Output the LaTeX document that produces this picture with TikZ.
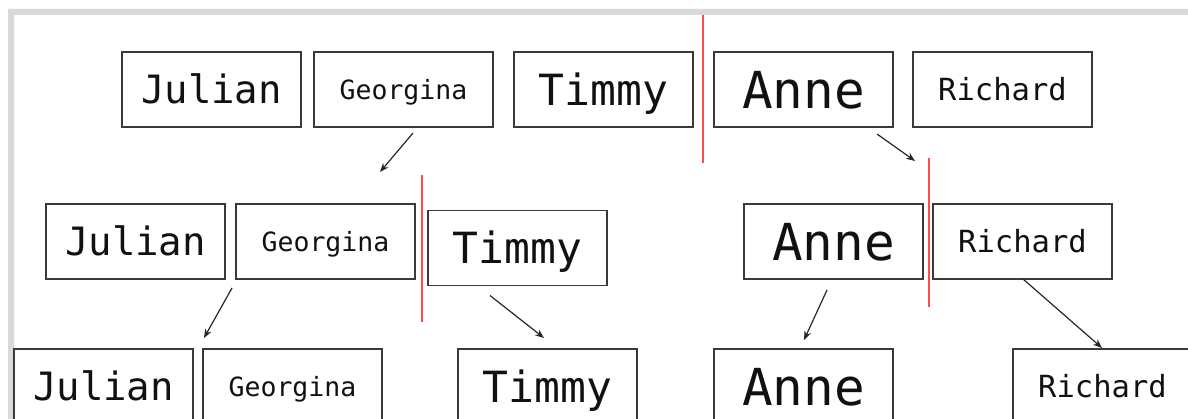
\documentclass[tikz,border=0pt]{standalone}
\usepackage{fontspec}
\newfontfamily\monof{DejaVu Sans Mono}
\usetikzlibrary{arrows.meta}
\definecolor{framec}{HTML}{D9D9D9}
\definecolor{boxc}{HTML}{3A3A3A}
\definecolor{ink}{HTML}{111111}
\definecolor{cut}{HTML}{FF4D4D}
\definecolor{arrc}{HTML}{262626}
\tikzset{
  card/.style={draw=boxc, line width=1.4pt, minimum width=179pt, minimum height=75pt,
    inner sep=0pt, outer sep=0pt, text=ink, text depth=0pt},
  jul/.style={card, font=\monof\fontsize{39}{39}\selectfont, text height=28.4pt},
  geo/.style={card, font=\monof\fontsize{26.5}{26.5}\selectfont, text height=19.3pt},
  tim/.style={card, font=\monof\fontsize{43}{43}\selectfont, text height=31.3pt},
  ann/.style={card, font=\monof\fontsize{51}{51}\selectfont, text height=37.2pt},
  ric/.style={card, font=\monof\fontsize{30.5}{30.5}\selectfont, text height=22.2pt},
  split/.style={draw=cut, line width=1.8pt},
  arr/.style={draw=arrc, line width=1.2pt, -{Stealth[length=9pt,width=7pt]}}
}
\begin{document}
\begin{tikzpicture}[x=1pt, y=-1pt]
  \useasboundingbox (0,0) rectangle (1188,419);
  % light grey frame along the top and left edges
  \fill[framec] (8,419) -- (8,9) -- (1188,9) -- (1188,15) -- (14,15) -- (14,419) -- cycle;

  % first row: whole list
  \node[jul] (j1) at (211.5,89.5) {Julian};
  \node[geo] (g1) at (403.5,89.5) {Georgina};
  \node[tim] (t1) at (603.5,89.5) {Timmy};
  \node[ann] (a1) at (803.5,89.5) {Anne};
  \node[ric] (r1) at (1002.5,89.5) {Richard};

  % second row: halves
  \node[jul] (j2) at (135.5,241.5) {Julian};
  \node[geo] (g2) at (325.5,241.5) {Georgina};
  \node[tim] (t2) at (517.5,248) {Timmy};
  \node[ann] (a2) at (833.5,241.5) {Anne};
  \node[ric] (r2) at (1022.5,241.5) {Richard};

  % third row: single items
  \node[jul] (j3) at (103.5,386.5) {Julian};
  \node[geo] (g3) at (292.5,386.5) {Georgina};
  \node[tim] (t3) at (547.5,386.5) {Timmy};
  \node[ann] (a3) at (803.5,386.5) {Anne};
  \node[ric] (r3) at (1102.5,386.5) {Richard};

  % split markers
  \coordinate (s1a) at (703,15);   \coordinate (s1b) at (703,163);
  \coordinate (s2a) at (422,175);  \coordinate (s2b) at (422,322);
  \coordinate (s3a) at (929,158);  \coordinate (s3b) at (929,307);
  \draw[split] (s1a) -- (s1b);
  \draw[split] (s2a) -- (s2b);
  \draw[split] (s3a) -- (s3b);

  % arrows between rows
  \coordinate (e1) at (380,172);
  \coordinate (e2) at (915,161);
  \draw[arr] ([xshift=9.5pt,yshift=-6pt]g1.south) -- (e1);
  \draw[arr] ([xshift=73.5pt,yshift=-7pt]a1.south) -- (e2);
  \draw[arr] ([xshift=-93.5pt,yshift=-9pt]g2.south) -- ([xshift=-88.5pt,yshift=11pt]g3.north);
  \draw[arr] ([xshift=-27.5pt,yshift=-10pt]t2.south) -- ([xshift=-3.5pt,yshift=11pt]t3.north);
  \draw[arr] ([xshift=-6.5pt,yshift=-11pt]a2.south) -- ([xshift=0.5pt,yshift=9pt]a3.north);
  \draw[arr] ([xshift=0.5pt]r2.south) -- ([xshift=-0.5pt,yshift=1pt]r3.north);
\end{tikzpicture}
\end{document}
